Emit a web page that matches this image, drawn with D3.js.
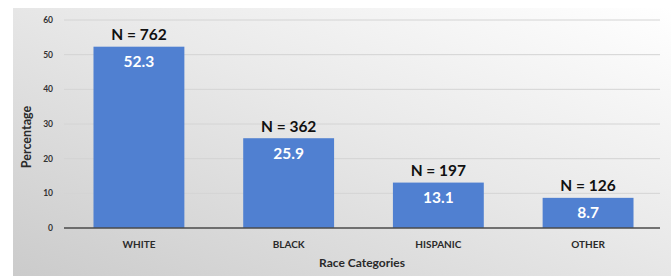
<!DOCTYPE html>
<html><head><meta charset="utf-8">
<script src="https://cdn.jsdelivr.net/npm/d3@7"></script>
<style>html,body{margin:0;padding:0;background:#fff;}svg{display:block;}</style>
</head><body>
<svg id="chart" width="671" height="276"></svg>
<script>
const categories = ["WHITE", "BLACK", "HISPANIC", "OTHER"];
const percentages = [52.3, 25.9, 13.1, 8.7];
const counts = [762, 362, 197, 126];
const yTicks = [0, 10, 20, 30, 40, 50, 60];

const svg = d3.select("#chart");
const W = 671, H = 276;
const defs = svg.append("defs");
const grad = defs.append("linearGradient").attr("id", "bg")
  .attr("x1", "100%").attr("y1", "0%").attr("x2", "0%").attr("y2", "100%");
grad.append("stop").attr("offset", "0%").attr("stop-color", "#ffffff");
grad.append("stop").attr("offset", "45%").attr("stop-color", "#e9e9e9");
grad.append("stop").attr("offset", "100%").attr("stop-color", "#cbcbcb");

svg.append("rect").attr("x", 13).attr("y", 8).attr("width", W - 13).attr("height", H - 8)
  .attr("fill", "url(#bg)");

const x = d3.scaleBand().domain(categories).range([64, 663]).paddingInner(0.393).paddingOuter(0.197);
const y = d3.scaleLinear().domain([0, 60]).range([228, 20]);

const font = "Lato, 'Open Sans', sans-serif";

// gridlines
svg.append("g").selectAll("line").data(yTicks.filter(t => t > 0)).join("line")
  .attr("x1", 64).attr("x2", 660)
  .attr("y1", d => y(d)).attr("y2", d => y(d))
  .attr("stroke", "#d4d4d4").attr("stroke-width", 1);

// y tick labels
svg.append("g").selectAll("text").data(yTicks).join("text")
  .attr("x", 53).attr("y", d => y(d)).attr("dy", "0.35em")
  .attr("text-anchor", "end").attr("font-family", font).attr("font-weight", "bold")
  .attr("font-size", 8.5).attr("fill", "#333333").text(d => d);

// bars
svg.append("g").selectAll("rect").data(percentages).join("rect")
  .attr("x", (d, i) => x(categories[i])).attr("width", x.bandwidth())
  .attr("y", d => y(d)).attr("height", d => y(0) - y(d))
  .attr("fill", "#5080d1");

// axis line
svg.append("line").attr("x1", 64).attr("x2", 660).attr("y1", y(0)).attr("y2", y(0))
  .attr("stroke", "#4a4a4a").attr("stroke-width", 1.5);

// value labels
svg.append("g").selectAll("text").data(percentages).join("text")
  .attr("x", (d, i) => x(categories[i]) + x.bandwidth() / 2)
  .attr("y", d => y(d) + 15).attr("dy", "0.35em")
  .attr("text-anchor", "middle").attr("font-family", font).attr("font-weight", "bold")
  .attr("font-size", 15.5).attr("fill", "#ffffff").text(d => d.toFixed(1));

// N labels
svg.append("g").selectAll("text").data(counts).join("text")
  .attr("x", (d, i) => x(categories[i]) + x.bandwidth() / 2)
  .attr("y", (d, i) => y(percentages[i]) - 12).attr("dy", "0.35em")
  .attr("text-anchor", "middle").attr("font-family", font).attr("font-weight", "bold")
  .attr("font-size", 15.5).attr("fill", "#111111").text(d => "N = " + d);

// category labels
svg.append("g").selectAll("text").data(categories).join("text")
  .attr("x", d => x(d) + x.bandwidth() / 2).attr("y", 244).attr("dy", "0.35em")
  .attr("text-anchor", "middle").attr("font-family", font).attr("font-weight", "bold")
  .attr("font-size", 10).attr("fill", "#2a2a2a").text(d => d);

// axis titles
svg.append("text").attr("x", 362).attr("y", 263).attr("dy", "0.35em")
  .attr("text-anchor", "middle").attr("font-family", font).attr("font-weight", "bold")
  .attr("font-size", 12).attr("fill", "#2a2a2a").text("Race Categories");

svg.append("text").attr("transform", "translate(27,137) rotate(-90)").attr("dy", "0.35em")
  .attr("text-anchor", "middle").attr("font-family", font).attr("font-weight", "bold")
  .attr("font-size", 12.5).attr("fill", "#2a2a2a").text("Percentage");
</script>
</body></html>
